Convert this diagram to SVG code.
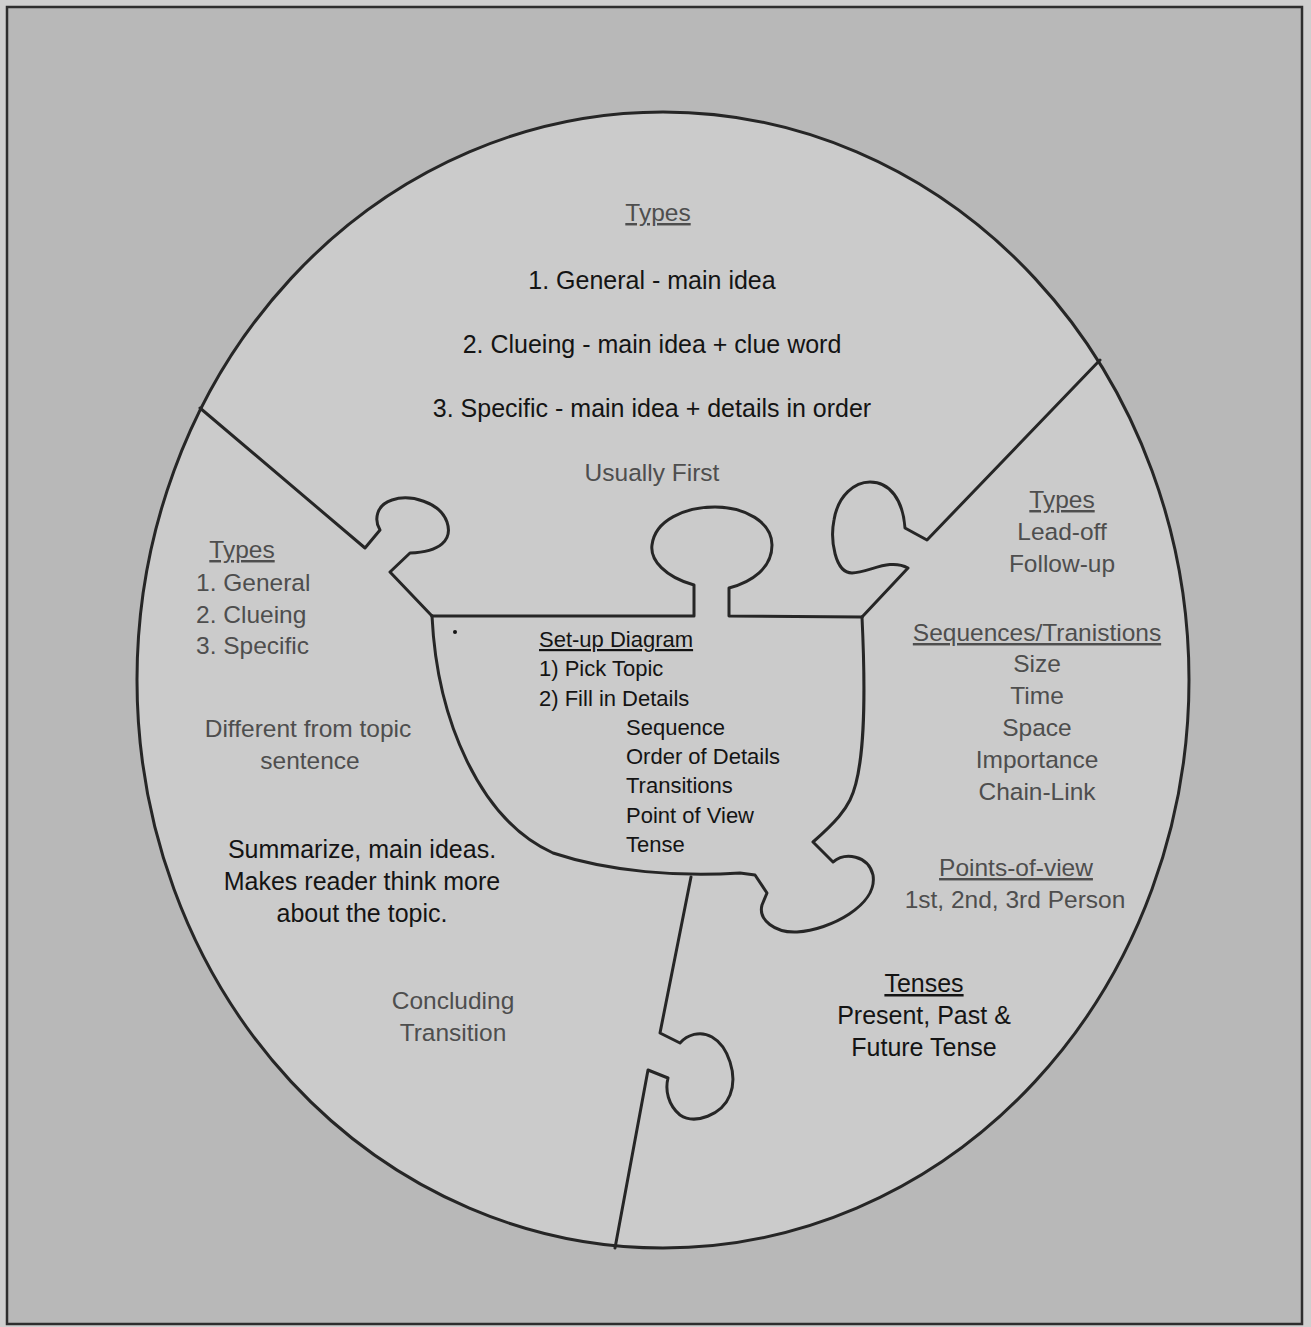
<svg xmlns="http://www.w3.org/2000/svg" width="1311" height="1327" viewBox="0 0 1311 1327">
  <style>
    text { font-family: "Liberation Sans", Arial, sans-serif; }
    .blk { fill: #141414; font-size: 25px; }
    .gry { fill: #4e4e4e; font-size: 24.5px; }
    .ctr { fill: #141414; font-size: 22px; }
    .mid { text-anchor: middle; }
    .ul { text-decoration: underline; }
    .edge { fill: none; stroke: #262626; stroke-width: 3; stroke-linejoin: round; stroke-linecap: round; }
  </style>
  <rect x="0" y="0" width="1311" height="1327" fill="#cfcfcf"/>
  <rect x="7" y="7" width="1295" height="1317" fill="#b8b8b8" stroke="#2e2e2e" stroke-width="2.5"/>

  <g id="wheel">
    <ellipse cx="663" cy="680" rx="526" ry="568" fill="#cbcbcb" stroke="#262626" stroke-width="3"/>
  </g>

  <g id="connectors">
    <path class="edge" d="M200,408 L365,548 L380,530 C374,520 376,505 392,500 C410,494 440,502 447,522 C453,540 440,552 410,553 L390,572 L432,616"/>
    <path class="edge" d="M432,616 L694,616 L694,585 C665,577 650,560 652,545 C655,520 685,507 715,507 C745,507 772,522 772,545 C772,568 752,582 729,588 L729,616 L862,617"/>
    <path class="edge" d="M862,617 L908,568 C890,558 870,572 852,573 C835,573 830,540 834,520 C838,495 855,482 870,482 C890,482 903,500 905,528 L927,540 L1100,360"/>
    <path class="edge" d="M862,617 C866,700 865,770 850,800 C845,810 838,820 813,842 L833,862 C845,852 868,855 873,875 C878,905 830,930 797,932 C775,933 758,920 762,905 L767,893 L755,875 L740,873 C680,877 610,872 553,853 C480,820 437,720 432,616"/>
    <path class="edge" d="M691,877 L660,1033 L680,1043 C687,1035 700,1030 712,1037 C728,1046 738,1075 730,1095 C722,1115 695,1125 680,1115 C668,1105 665,1090 668,1078 L648,1070 L615,1248"/>
  </g>

  <g id="piece-top">
    <text class="gry mid ul" x="658" y="221">Types</text>
    <text class="blk mid" x="652" y="289">1. General - main idea</text>
    <text class="blk mid" x="652" y="353">2. Clueing - main idea + clue word</text>
    <text class="blk mid" x="652" y="417">3. Specific - main idea + details in order</text>
    <text class="gry mid" x="652" y="481">Usually First</text>
  </g>

  <g id="piece-left">
    <text class="gry mid ul" x="242" y="558">Types</text>
    <text class="gry" x="196" y="591">1. General</text>
    <text class="gry" x="196" y="623">2. Clueing</text>
    <text class="gry" x="196" y="654">3. Specific</text>
    <text class="gry mid" x="308" y="737">Different from topic</text>
    <text class="gry mid" x="310" y="769">sentence</text>
    <text class="blk mid" x="362" y="858">Summarize, main ideas.</text>
    <text class="blk mid" x="362" y="890">Makes reader think more</text>
    <text class="blk mid" x="362" y="922">about the topic.</text>
    <text class="gry mid" x="453" y="1009">Concluding</text>
    <text class="gry mid" x="453" y="1041">Transition</text>
  </g>

  <g id="piece-center">
    <circle cx="455" cy="632" r="2" fill="#141414"/>
    <text class="ctr ul" x="539" y="647">Set-up Diagram</text>
    <text class="ctr" x="539" y="676">1) Pick Topic</text>
    <text class="ctr" x="539" y="706">2) Fill in Details</text>
    <text class="ctr" x="626" y="735">Sequence</text>
    <text class="ctr" x="626" y="764">Order of Details</text>
    <text class="ctr" x="626" y="793">Transitions</text>
    <text class="ctr" x="626" y="823">Point of View</text>
    <text class="ctr" x="626" y="852">Tense</text>
  </g>

  <g id="piece-right">
    <text class="gry mid ul" x="1062" y="508">Types</text>
    <text class="gry mid" x="1062" y="540">Lead-off</text>
    <text class="gry mid" x="1062" y="572">Follow-up</text>
    <text class="gry mid ul" x="1037" y="641">Sequences/Tranistions</text>
    <text class="gry mid" x="1037" y="672">Size</text>
    <text class="gry mid" x="1037" y="704">Time</text>
    <text class="gry mid" x="1037" y="736">Space</text>
    <text class="gry mid" x="1037" y="768">Importance</text>
    <text class="gry mid" x="1037" y="800">Chain-Link</text>
    <text class="gry mid ul" x="1016" y="876">Points-of-view</text>
    <text class="gry mid" x="1015" y="908">1st, 2nd, 3rd Person</text>
  </g>

  <g id="piece-bottom">
    <text class="blk mid ul" x="924" y="992">Tenses</text>
    <text class="blk mid" x="924" y="1024">Present, Past &amp;</text>
    <text class="blk mid" x="924" y="1056">Future Tense</text>
  </g>
</svg>
